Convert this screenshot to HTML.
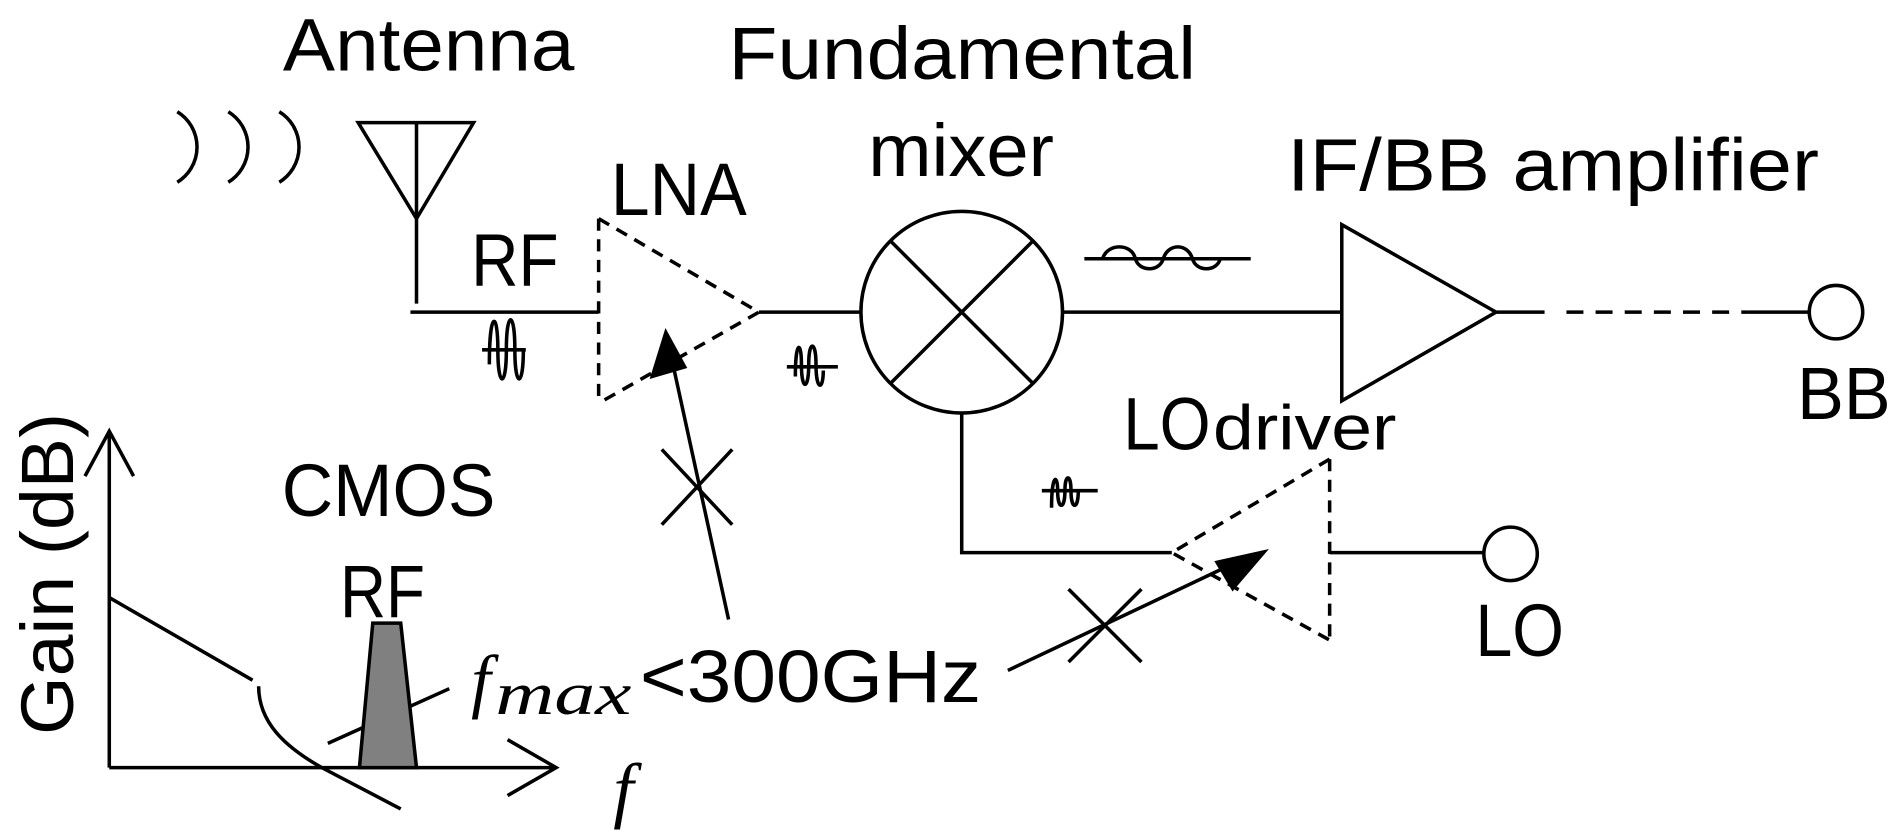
<!DOCTYPE html>
<html><head><meta charset="utf-8"><style>html,body{margin:0;padding:0;background:#fff}svg{display:block}</style></head>
<body>
<svg width="1904" height="832" viewBox="0 0 1568 685" preserveAspectRatio="none" xmlns="http://www.w3.org/2000/svg">
<g fill="none" stroke="#000" stroke-width="2.9">
<!-- waves -->
<path d="M146,92 A34,34 0 0 1 146,150"/><path d="M188,92 A34,34 0 0 1 188,150"/><path d="M230,92 A34,34 0 0 1 230,150"/>
<!-- antenna -->
<path d="M295,101 L390,101 L343,180 Z"/><path d="M343,101 L343,250"/><path d="M338,257 L493,257"/>
<!-- RF symbol -->
<path d="M397,288 L433,288"/>
<path d="M403,300 C403,255 410,255 410,288 C410,320 417,320 417,288 C417,255 424,255 424,288 C424,320 431,320 431,288"/>
<!-- LNA -->
<path d="M493,180 L493,332 M493,180 L625,257 L493,332" stroke-dasharray="10,7"/>
<path d="M625,257 L710,257"/>
<path d="M600,510 L552,290"/>
<path d="M545,370 L603,432 M603,370 L545,432"/>
<path d="M648,302 L690,302"/>
<path d="M655,310 C655,280 660,280 660,300 C660,322 666,322 666,300 C666,280 672,280 672,300 C672,322 678,322 678,305"/>
<!-- mixer -->
<circle cx="792" cy="257" r="83"/>
<path d="M734,199 L850,315 M850,199 L734,315"/>
<path d="M875,257 L1105,257"/>
<path d="M893,213 L1030,213"/>
<path d="M908,213 C912,200 932,200 935,213 C938,224 955,224 958,213 C962,200 978,200 982,213 C985,224 1002,224 1005,213"/>
<!-- IF amp -->
<path d="M1105,185 L1105,330 L1232,257 Z"/>
<path d="M1232,257 L1272,257 M1440,257 L1490,257"/>
<path d="M1290,257 L1440,257" stroke-dasharray="14,10"/>
<circle cx="1512" cy="257" r="22"/>
<!-- LO path -->
<path d="M792,340 L792,455 L965,455"/>
<path d="M1095,378 L1095,527 M1095,378 L965,455 L1095,527" stroke-dasharray="10,7"/>
<path d="M1095,455 L1222,455"/>
<circle cx="1244" cy="456" r="22"/>
<path d="M858,404 L904,404"/>
<path d="M866,418 C866,390 871,390 871,404 C871,420 877,420 877,404 C877,390 882,390 882,404 C882,420 888,420 888,404"/>
<path d="M830,552 L1020,462"/>
<path d="M880,485 L940,545 M940,485 L880,545"/>
<!-- graph -->
<path d="M90,632 L90,355 M70,392 L90,355 L110,392"/>
<path d="M90,632 L458,632 M418,609 L458,632 L418,655"/>
<path d="M90,492 L208,560"/>
<path d="M213,565 C213,595 235,615 265,632 L330,666"/>
<path d="M270,612 L370,567"/>
</g>
<path d="M296,632 L307,513 L330,513 L343,632 Z" fill="#808080" stroke="#000" stroke-width="2.9"/>
<path d="M548,270 L535,312 L566,303 Z" fill="#000"/>
<path d="M1045,452 L1000,462 L1015,487 Z" fill="#000"/>
<g font-family="Liberation Sans, sans-serif" font-size="61" fill="#000">
<text x="233" y="58" textLength="240" lengthAdjust="spacingAndGlyphs">Antenna</text>
<text x="600" y="65" textLength="385" lengthAdjust="spacingAndGlyphs">Fundamental</text>
<text x="715" y="145" textLength="153" lengthAdjust="spacingAndGlyphs">mixer</text>
<text x="503" y="177" textLength="112" lengthAdjust="spacingAndGlyphs">LNA</text>
<text x="388" y="235" textLength="72" lengthAdjust="spacingAndGlyphs">RF</text>
<text x="1060" y="157" textLength="438" lengthAdjust="spacingAndGlyphs">IF/BB amplifier</text>
<text x="1480" y="345" textLength="77" lengthAdjust="spacingAndGlyphs">BB</text>
<text x="925" y="370" textLength="72" lengthAdjust="spacingAndGlyphs">LO</text>
<text x="999" y="370" font-size="52" textLength="151" lengthAdjust="spacingAndGlyphs">driver</text>
<text x="1215" y="540" textLength="73" lengthAdjust="spacingAndGlyphs">LO</text>
<text x="232" y="425" textLength="176" lengthAdjust="spacingAndGlyphs">CMOS</text>
<text x="280" y="508" textLength="70" lengthAdjust="spacingAndGlyphs">RF</text>
<text x="527" y="578" textLength="281" lengthAdjust="spacingAndGlyphs">&lt;300GHz</text>
<text transform="translate(60,605) rotate(-90)" textLength="265" lengthAdjust="spacingAndGlyphs">Gain (dB)</text>
</g>
<g font-family="Liberation Serif, serif" font-style="italic" fill="#000">
<text x="388" y="580" font-size="58">f</text>
<text x="408" y="588" font-size="50" textLength="112" lengthAdjust="spacingAndGlyphs">max</text>
<text x="505" y="670" font-size="60">f</text>
</g>
</svg>
</body></html>
